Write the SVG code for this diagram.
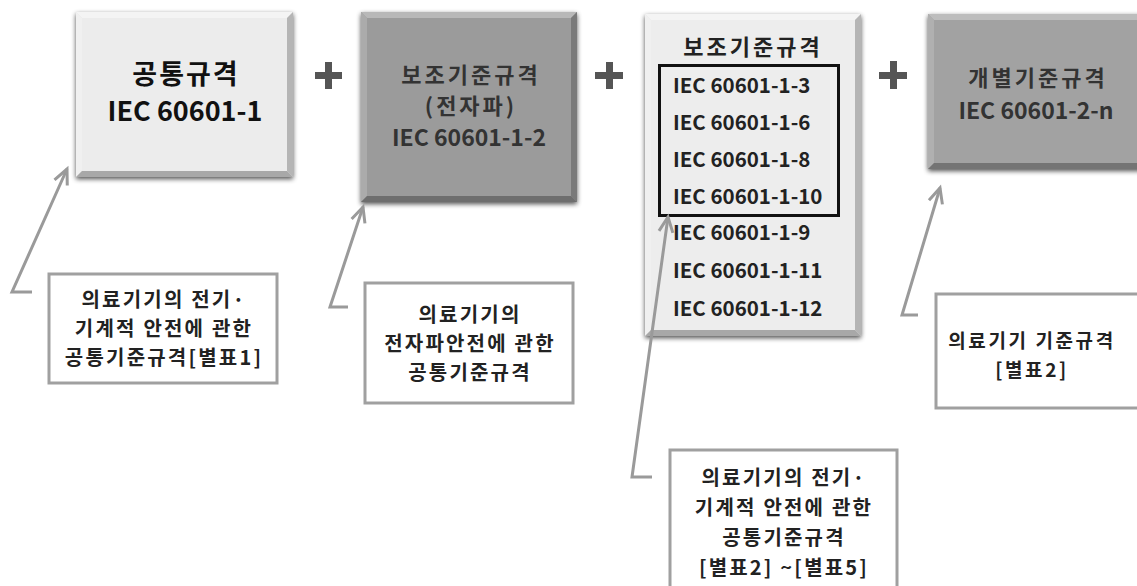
<svg xmlns="http://www.w3.org/2000/svg" width="1137" height="586" viewBox="0 0 1137 586">
<defs>
<filter id="sh" x="-10%" y="-10%" width="120%" height="125%">
<feGaussianBlur in="SourceAlpha" stdDeviation="2.5"/>
<feOffset dx="0" dy="2"/>
<feComponentTransfer><feFuncA type="linear" slope="0.7"/></feComponentTransfer>
<feMerge><feMergeNode/><feMergeNode in="SourceGraphic"/></feMerge>
</filter>
<marker id="ah" markerWidth="20" markerHeight="20" viewBox="-16 -10 20 20" refX="0" refY="0" orient="auto" markerUnits="userSpaceOnUse">
<path d="M-15,-7 L0,0 L-15,7" fill="none" stroke="#9a9a9a" stroke-width="3"/>
</marker>
</defs>
<style>
text{font-family:"Noto Sans CJK KR","Noto Sans",sans-serif;font-weight:bold;text-anchor:middle}
.big{font-size:27px;fill:#111}
.mid{font-size:23px;fill:#333}
.ko{font-size:22px;letter-spacing:3px}
.big.ko{font-size:27px;letter-spacing:2px}
.iec{font-size:20.5px;fill:#222;text-anchor:start}
.note{font-size:20px;fill:#222;letter-spacing:2.2px}
.nbox{fill:#fff;stroke:#a0a0a0;stroke-width:3}
.conn{fill:none;stroke:#9a9a9a;stroke-width:3}
.plus{fill:#555}
</style>
<rect width="1137" height="586" fill="#fff"/>

<g id="node-common">
<rect x="76" y="12" width="217" height="165" fill="#e6e6e6" filter="url(#sh)"/>
<polygon points="76,12 293,12 287,18 82,18" fill="#f4f4f4"/>
<polygon points="76,12 82,18 82,171 76,177" fill="#f0f0f0"/>
<polygon points="293,12 293,177 287,171 287,18" fill="#b5b5b5"/>
<polygon points="76,177 293,177 287,171 82,171" fill="#a8a8a8"/>
<rect x="82" y="18" width="205" height="153" fill="#ececec"/>
<text class="big ko" x="186" y="84">공통규격</text>
<text class="big" x="185" y="121">IEC 60601-1</text>
</g>

<g id="node-emc">
<rect x="361" y="12" width="216" height="190" fill="#999" filter="url(#sh)"/>
<polygon points="361,12 577,12 571,18 367,18" fill="#b8b8b8"/>
<polygon points="361,12 367,18 367,196 361,202" fill="#ababab"/>
<polygon points="577,12 577,202 571,196 571,18" fill="#7a7a7a"/>
<polygon points="361,202 577,202 571,196 367,196" fill="#6e6e6e"/>
<rect x="367" y="18" width="204" height="178" fill="#9b9b9b"/>
<text class="mid ko" x="471" y="83">보조기준규격</text>
<text class="mid ko" x="471" y="114">(전자파)</text>
<text class="mid" x="469" y="146">IEC 60601-1-2</text>
</g>

<g id="node-collateral">
<rect x="645" y="14" width="216" height="322" fill="#e6e6e6" filter="url(#sh)"/>
<polygon points="645,14 861,14 855,20 651,20" fill="#f4f4f4"/>
<polygon points="645,14 651,20 651,330 645,336" fill="#f0f0f0"/>
<polygon points="861,14 861,336 855,330 855,20" fill="#b5b5b5"/>
<polygon points="645,336 861,336 855,330 651,330" fill="#a8a8a8"/>
<rect x="651" y="20" width="204" height="310" fill="#ededed"/>
<text class="mid ko" x="753" y="55" style="fill:#222">보조기준규격</text>
<rect x="659.5" y="65.5" width="179" height="150" fill="none" stroke="#111" stroke-width="3"/>
<text class="iec" x="673" y="93">IEC 60601-1-3</text>
<text class="iec" x="673" y="130">IEC 60601-1-6</text>
<text class="iec" x="673" y="167">IEC 60601-1-8</text>
<text class="iec" x="673" y="204">IEC 60601-1-10</text>
<text class="iec" x="673" y="240">IEC 60601-1-9</text>
<text class="iec" x="673" y="278">IEC 60601-1-11</text>
<text class="iec" x="673" y="316">IEC 60601-1-12</text>
</g>

<g id="node-particular">
<rect x="928" y="14" width="215" height="155" fill="#a0a0a0" filter="url(#sh)"/>
<polygon points="928,14 1143,14 1137,20 934,20" fill="#bdbdbd"/>
<polygon points="928,14 934,20 934,163 928,169" fill="#b0b0b0"/>
<polygon points="928,169 1143,169 1137,163 934,163" fill="#747474"/>
<rect x="934" y="20" width="210" height="143" fill="#a2a2a2"/>
<text class="mid ko" x="1038" y="86">개별기준규격</text>
<text class="mid" x="1036" y="119">IEC 60601-2-n</text>
</g>

<g id="plus-signs" class="plus">
<rect x="315" y="72" width="27" height="7"/><rect x="325" y="62" width="7" height="27"/>
<rect x="595" y="72" width="28" height="7"/><rect x="606" y="62" width="7" height="27"/>
<rect x="879" y="72" width="28" height="7"/><rect x="890" y="61" width="7" height="28"/>
</g>

<g id="note-common">
<rect class="nbox" x="49" y="274" width="228" height="109"/>
<text class="note" x="164" y="307">의료기기의 전기·</text>
<text class="note" x="164" y="336">기계적 안전에 관한</text>
<text class="note" x="164" y="365">공통기준규격[별표1]</text>
</g>

<g id="note-emc">
<rect class="nbox" x="365" y="283" width="208" height="120"/>
<text class="note" x="470" y="322">의료기기의</text>
<text class="note" x="470" y="351">전자파안전에 관한</text>
<text class="note" x="470" y="380">공통기준규격</text>
</g>

<g id="note-collateral">
<rect class="nbox" x="670" y="450" width="227" height="150"/>
<text class="note" x="784" y="485">의료기기의 전기·</text>
<text class="note" x="784" y="515">기계적 안전에 관한</text>
<text class="note" x="784" y="545">공통기준규격</text>
<text class="note" x="784" y="575">[별표2] ~[별표5]</text>
</g>

<g id="note-particular">
<rect class="nbox" x="936" y="294" width="210" height="114"/>
<text class="note" x="1032" y="348" style="font-size:19px;letter-spacing:2.6px">의료기기 기준규격</text>
<text class="note" x="1032" y="377" style="font-size:19px;letter-spacing:2.6px">[별표2]</text>
</g>

<g id="connectors">
<path class="conn" d="M32,292 L12,292 L67,169" marker-end="url(#ah)"/>
<path class="conn" d="M348,307 L330,307 L363,207" marker-end="url(#ah)"/>
<path class="conn" d="M652,477 L632,477 L668,217" marker-end="url(#ah)"/>
<path class="conn" d="M918,315 L902,315 L940,188" marker-end="url(#ah)"/>
</g>
</svg>
